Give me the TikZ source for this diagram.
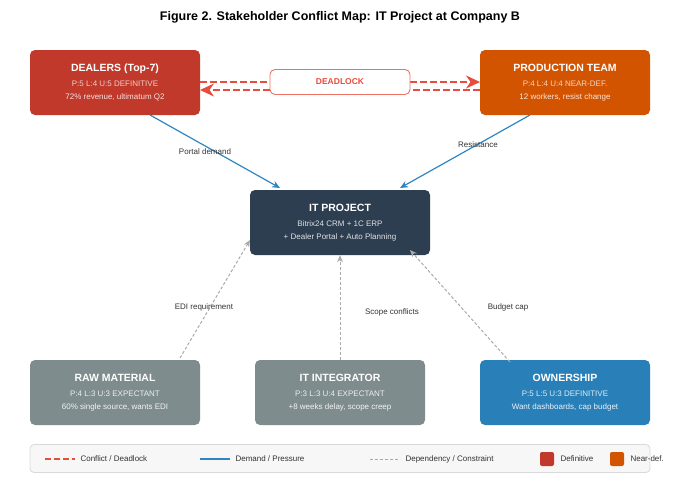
\documentclass[tikz,border=0pt]{standalone}
\usepackage{fontspec}
\setmainfont{Liberation Sans}
\usetikzlibrary{arrows.meta}
\definecolor{cdeal}{HTML}{C0392B}
\definecolor{cprod}{HTML}{D35400}
\definecolor{cit}{HTML}{2C3E50}
\definecolor{cgray}{HTML}{7F8C8D}
\definecolor{cown}{HTML}{2980B9}
\definecolor{cconf}{HTML}{E74C3C}
\definecolor{cblue}{HTML}{2E86C1}
\definecolor{cdep}{HTML}{AAAAAA}
\newcommand{\tfnt}{\bfseries\fontsize{10.5}{12}\selectfont}
\newcommand{\sfnt}{\fontsize{8}{9.5}\selectfont}
\tikzset{
 box/.style={rounded corners=5pt,minimum width=170pt,minimum height=65pt,inner sep=0pt,align=center,text=white},
 demand/.style={cblue,line width=1.2pt,-{Stealth[length=8pt,width=7pt]}},
 dep/.style={cdep,line width=1pt,dash pattern=on 3pt off 2pt,-{Stealth[length=7pt,width=6pt]}},
 conf/.style={cconf,line width=2.2pt,dash pattern=on 7pt off 3pt,-{Stealth[length=14pt,width=13pt]}},
 lab/.style={font=\fontsize{8}{9.5}\selectfont,text=black!80},
}
\begin{document}
\begin{tikzpicture}[x=1pt,y=-1pt]
\useasboundingbox (0,0) rectangle (680,480);
\node[font=\bfseries\fontsize{12.5}{14}\selectfont] (title) at (340,17) {Figure 2. Stakeholder Conflict Map: IT Project at Company B};
\node[box,fill=cdeal] (dealers) at (115,82.5) {{\tfnt DEALERS (Top-7)}\\[3pt]{\sfnt\color{white!75!cdeal}P:5 L:4 U:5 DEFINITIVE}\\[1pt]{\sfnt\color{white!85!cdeal}72\% revenue, ultimatum Q2}};
\node[box,fill=cprod] (prod) at (565,82.5) {{\tfnt PRODUCTION TEAM}\\[3pt]{\sfnt\color{white!75!cprod}P:4 L:4 U:4 NEAR-DEF.}\\[1pt]{\sfnt\color{white!85!cprod}12 workers, resist change}};
\node[box,fill=cit,minimum width=180pt] (it) at (340,222.5) {{\tfnt IT PROJECT}\\[3pt]{\sfnt\color{white!85!cit}Bitrix24 CRM + 1C ERP}\\[1pt]{\sfnt\color{white!85!cit}+ Dealer Portal + Auto Planning}};
\node[box,fill=cgray] (raw) at (115,392.5) {{\tfnt RAW MATERIAL}\\[3pt]{\sfnt\color{white!85!cgray}P:4 L:3 U:3 EXPECTANT}\\[1pt]{\sfnt\color{white!90!cgray}60\% single source, wants EDI}};
\node[box,fill=cgray] (integ) at (340,392.5) {{\tfnt IT INTEGRATOR}\\[3pt]{\sfnt\color{white!85!cgray}P:3 L:3 U:4 EXPECTANT}\\[1pt]{\sfnt\color{white!90!cgray}+8 weeks delay, scope creep}};
\node[box,fill=cown] (own) at (565,392.5) {{\tfnt OWNERSHIP}\\[3pt]{\sfnt\color{white!85!cown}P:5 L:5 U:3 DEFINITIVE}\\[1pt]{\sfnt\color{white!90!cown}Want dashboards, cap budget}};
% conflict
\coordinate (c1a) at (200,82); \coordinate (c1b) at (480,82);
\coordinate (c2a) at (480,90); \coordinate (c2b) at (200,90);
\draw[conf] (c1a) -- (c1b);
\draw[conf] (c2a) -- (c2b);
\node[draw=cconf!80,line width=0.9pt,fill=white,rounded corners=5pt,minimum width=140pt,minimum height=25pt,text=cconf,font=\bfseries\fontsize{8.5}{10}\selectfont] (dead) at (340,82) {DEADLOCK};
% demand
\coordinate (p1) at (150,115); \coordinate (p2) at (280,188);
\coordinate (p3) at (530,115); \coordinate (p4) at (400,188);
\draw[demand] (p1) -- (p2);
\draw[demand] (p3) -- (p4);
\node[lab] (l1) at (205,152) {Portal demand};
\node[lab] (l2) at (478,145) {Resistance};
% dependencies
\coordinate (q1) at (180,358); \coordinate (q2) at (250,240);
\coordinate (q3) at (510,362); \coordinate (q4) at (410,250);
\draw[dep] (q1) -- (q2);
\draw[dep] (integ.north) -- (it.south);
\draw[dep] (q3) -- (q4);
\node[lab] (l3) at (204,307) {EDI requirement};
\node[lab] (l4) at (392,312) {Scope conflicts};
\node[lab] (l5) at (508,307) {Budget cap};
% legend
\node[draw=black!15,line width=0.8pt,fill=black!3,rounded corners=4pt,minimum width=620pt,minimum height=28pt] (leg) at (340,458.5) {};
\coordinate (a1) at (45,459); \coordinate (a2) at (75,459);
\draw[cconf,line width=2pt,dash pattern=on 6pt off 3pt] (a1) -- (a2);
\node[lab,anchor=west] (t1) at (77,459) {Conflict / Deadlock};
\coordinate (b1) at (200,459); \coordinate (b2) at (230,459);
\draw[cblue,line width=1.2pt] (b1) -- (b2);
\node[lab,anchor=west] (t2) at (232,459) {Demand / Pressure};
\coordinate (d1) at (370,459); \coordinate (d2) at (400,459);
\draw[cdep,line width=1pt,dash pattern=on 3pt off 2pt] (d1) -- (d2);
\node[lab,anchor=west] (t3) at (402,459) {Dependency / Constraint};
\node[fill=cdeal,rounded corners=2pt,minimum size=14pt,inner sep=0pt] (s1) at (547,459) {};
\node[lab,anchor=west] (t4) at (557,459) {Definitive};
\node[fill=cprod,rounded corners=2pt,minimum size=14pt,inner sep=0pt] (s2) at (617,459) {};
\node[lab,anchor=west] (t5) at (627,459) {Near-def.};
\end{tikzpicture}
\end{document}
